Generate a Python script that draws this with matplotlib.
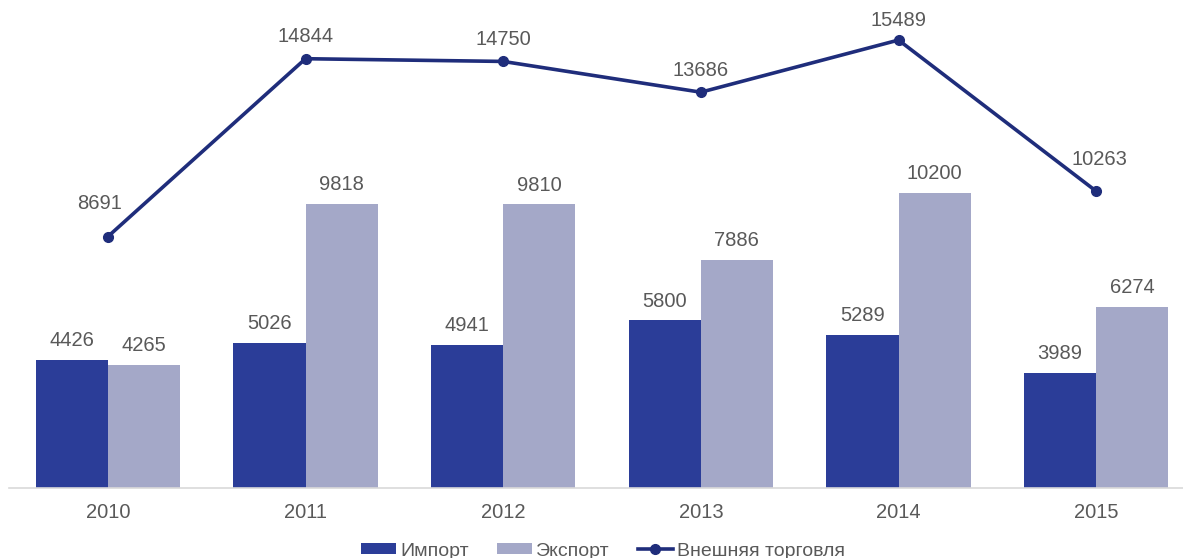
import matplotlib
matplotlib.use("Agg")
import matplotlib.pyplot as plt
import numpy as np

years = ["2010", "2011", "2012", "2013", "2014", "2015"]
imports = [4426, 5026, 4941, 5800, 5289, 3989]
exports = [4265, 9818, 9810, 7886, 10200, 6274]
trade_total = [8691, 14844, 14750, 13686, 15489, 10263]

IMPORT_COLOR = "#2B3D98"
EXPORT_COLOR = "#A4A8C8"
LINE_COLOR = "#1F2D7B"
TEXT_COLOR = "#595959"

plt.rcParams["font.family"] = ["Liberation Sans", "DejaVu Sans"]

fig = plt.figure(figsize=(11.83, 5.58), dpi=100)
# plot area in figure fraction: spans slightly past the right edge
ax = fig.add_axes([9 / 1183, 70 / 558, 1186 / 1183, 488 / 558])

x = np.arange(len(years))
w = 0.365
h_imp = ax.bar(x - w / 2, imports, width=w, color=IMPORT_COLOR, label="Импорт")
h_exp = ax.bar(x + w / 2, exports, width=w, color=EXPORT_COLOR, label="Экспорт")
h_line, = ax.plot(x, trade_total, color=LINE_COLOR, lw=2.6, marker="o", ms=7,
                  label="Внешняя торговля")

for xi, v in zip(x, imports):
    ax.annotate(str(v), (xi - w / 2, v), xytext=(0, 7), textcoords="offset points",
                ha="center", va="bottom", fontsize=14.5, color=TEXT_COLOR)
for xi, v in zip(x, exports):
    ax.annotate(str(v), (xi + w / 2, v), xytext=(0, 7), textcoords="offset points",
                ha="center", va="bottom", fontsize=14.5, color=TEXT_COLOR)

# label offsets for the line points (points)
line_offsets = [(-6, 17), (0, 9), (0, 9), (0, 9), (0, 7), (2, 16)]
for xi, v, off in zip(x, trade_total, line_offsets):
    ax.annotate(str(v), (xi, v), xytext=off, textcoords="offset points",
                ha="center", va="bottom", fontsize=14.5, color=TEXT_COLOR)

ax.set_xlim(-0.5, len(years) - 0.5)
ax.set_ylim(0, 488 / 0.02892)
ax.set_xticks(x)
ax.set_xticklabels(years, fontsize=14.5, color=TEXT_COLOR)
ax.tick_params(axis="x", length=0, pad=11)
ax.set_yticks([])
for side in ("top", "right", "left"):
    ax.spines[side].set_visible(False)
ax.spines["bottom"].set_color("#D9D9D9")
ax.spines["bottom"].set_linewidth(1.2)

fig.legend([h_imp, h_exp, h_line], ["Импорт", "Экспорт", "Внешняя торговля"],
           loc="center", bbox_to_anchor=(603 / 1183, 1 - 551 / 558), ncol=3,
           frameon=False, fontsize=14, handlelength=1.8, handleheight=0.55,
           columnspacing=1.45, handletextpad=0.2, labelcolor=TEXT_COLOR)

fig.savefig("out.png", dpi=100)
